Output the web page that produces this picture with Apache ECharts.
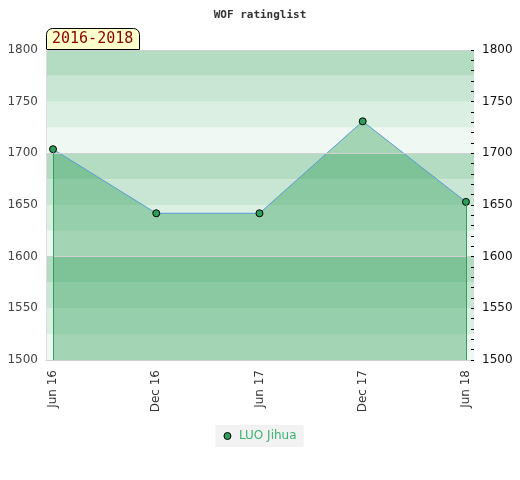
<!DOCTYPE html>
<html>
<head>
<meta charset="utf-8">
<script src="https://cdn.jsdelivr.net/npm/echarts@6/dist/echarts.min.js"></script>
<style>html,body{margin:0;padding:0;background:#fff}#c{width:520px;height:480px}</style>
</head>
<body>
<div id="c"></div>
<script>
var categories = ['Jun 16', 'Dec 16', 'Jun 17', 'Dec 17', 'Jun 18'];
var ratings = [1704, 1642, 1642, 1731, 1653];
var yTicks = [1500, 1550, 1600, 1650, 1700, 1750, 1800];
var seriesName = 'LUO Jihua';
var periodLabel = '2016-2018';
var chartTitle = 'WOF ratinglist';

var bandColors = ['#f0f8f3', '#dcefe3', '#c9e6d5', '#b3dcc3'];
var yMin = yTicks[0], yMax = yTicks[yTicks.length - 1];
var bands = [];
for (var v = yMin, i = 0; v < yMax; v += 25, i++) {
  bands.push([{ yAxis: v, itemStyle: { color: bandColors[i % 4] } }, { yAxis: v + 25 }]);
}
var gridLines = [];
for (var g = yMin; g <= yMax; g += 100) gridLines.push({ yAxis: g });

var data = ratings.map(function (r, i) { return [i, r]; });
var n = categories.length - 1;
function plain(v) { return String(v); }

var chart = echarts.init(document.getElementById('c'));
chart.setOption({
  animation: false,
  title: [
    { text: chartTitle, left: 'center', top: 5,
      textStyle: { fontFamily: 'DejaVu Sans Mono', fontWeight: 'bold', fontSize: 11, color: '#333' } },
    { text: periodLabel, left: 46, top: 28, padding: [3, 6, 2, 6],
      backgroundColor: '#ffffcc', borderColor: '#000', borderWidth: 1, borderRadius: [6, 6, 0, 0],
      textStyle: { fontFamily: 'DejaVu Sans Mono', fontWeight: 'normal', fontSize: 15, color: '#8b0000', lineHeight: 17 } }
  ],
  legend: {
    data: [seriesName], bottom: 33, left: 'center',
    backgroundColor: '#f2f2f2', padding: [5, 7, 5, 8],
    icon: 'circle', itemWidth: 7, itemHeight: 7, itemGap: 6,
    itemStyle: { borderColor: '#000', borderWidth: 1 },
    textStyle: { color: '#3cb371', fontSize: 12, fontFamily: 'DejaVu Sans', padding: [0, 0, 0, 3] }
  },
  grid: { left: 46, right: 46, top: 50, bottom: 120 },
  xAxis: {
    type: 'value', min: -0.068, max: n + 0.078,
    splitLine: { show: false },
    axisLine: { show: true, onZero: false, lineStyle: { color: '#ddd' } },
    axisTick: { show: false },
    axisLabel: {
      customValues: categories.map(function (c, i) { return i; }),
      formatter: function (v) { return categories[Math.round(v)]; },
      rotate: 90, margin: 10, fontSize: 12, color: '#333', fontFamily: 'DejaVu Sans'
    }
  },
  yAxis: [
    { type: 'value', min: yMin, max: yMax, interval: 50, position: 'left', z: 10,
      splitLine: { show: false },
      axisLine: { show: true, onZero: false, lineStyle: { color: '#ddd' } },
      axisTick: { show: false },
      axisLabel: { fontSize: 12, color: '#444', margin: 8, fontFamily: 'DejaVu Sans', formatter: plain } },
    { type: 'value', min: yMin, max: yMax, interval: 50, position: 'right', z: 10,
      splitLine: { show: false },
      axisLine: { show: true, onZero: false, lineStyle: { color: 'rgba(0,0,0,0)' } },
      axisTick: { show: true, inside: true, length: 3, lineStyle: { color: '#000' } },
      minorTick: { show: true, splitNumber: 5, length: 3, lineStyle: { color: '#000' } },
      axisLabel: { fontSize: 12, color: '#111', margin: 8, fontFamily: 'DejaVu Sans', formatter: plain } }
  ],
  series: [
    { type: 'line', name: 'bg', data: [], z: 1, silent: true,
      markArea: { silent: true, data: bands },
      markLine: { silent: true, symbol: 'none', label: { show: false },
        lineStyle: { color: '#d0d0d0', type: 'solid', width: 1 }, data: gridLines } },
    { type: 'line', name: seriesName, data: data, z: 3,
      symbol: 'circle', symbolSize: 7,
      itemStyle: { color: '#2e9e58', borderColor: '#000', borderWidth: 1 },
      lineStyle: { color: '#5b9bd5', width: 1 },
      areaStyle: { color: 'rgba(40,155,80,0.55)', origin: 'start' },
      markLine: { silent: true, symbol: 'none', label: { show: false },
        lineStyle: { color: '#2e9e58', type: 'solid', width: 1 },
        data: [
          [{ coord: [0, ratings[0]] }, { coord: [0, yMin] }],
          [{ coord: [n, ratings[n]] }, { coord: [n, yMin] }]
        ] } }
  ]
});
</script>
</body>
</html>
